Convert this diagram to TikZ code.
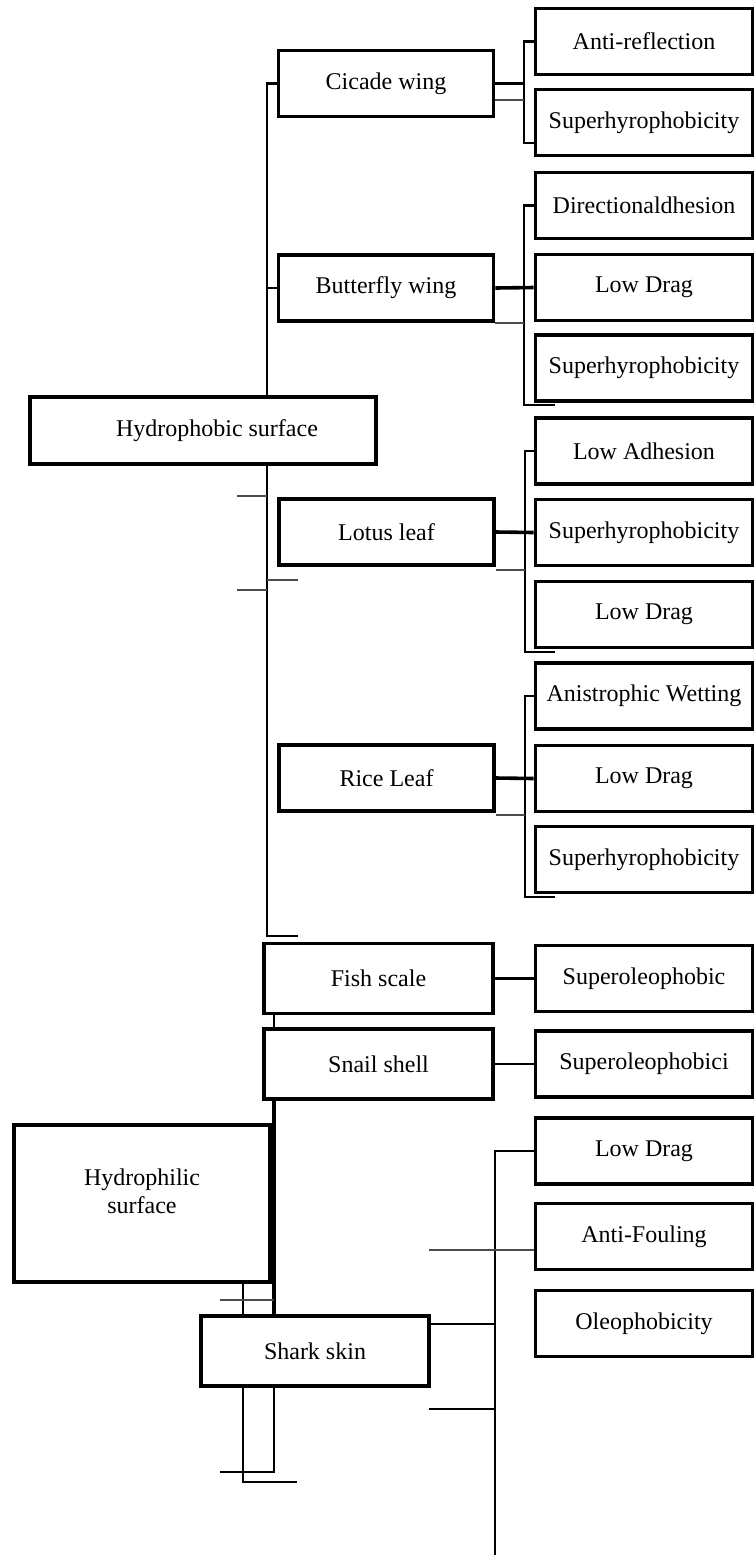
\documentclass[tikz,border=0pt]{standalone}
\usepackage{fontspec}
\setmainfont{Liberation Serif}
\usetikzlibrary{positioning}

\begin{document}
\begin{tikzpicture}[x=0.5pt, y=-0.5pt,
		box/.style = {draw, line width=1.8pt, inner sep=0pt, align=center,
					font=\fontsize{12}{14}\selectfont},
		leaf/.style = {box, minimum width=108.5pt, minimum height=33pt},
		mid/.style = {box, minimum width=107.5pt, minimum height=33pt},
		wide/.style = {box, minimum width=114.5pt, minimum height=35pt},
		link/.style = {line width=1.3pt},
		thicklink/.style = {line width=1.8pt},
		stub/.style = {line width=1.2pt, black!70}
		]

\useasboundingbox (0,0) rectangle (754,1555);

%Main surfaces
	\node[box, minimum width=173pt, minimum height=33.5pt] (hphob) at (203,430.5) {\hspace{14pt}Hydrophobic surface};
	\node[box, minimum width=128pt, minimum height=78.5pt] (hphil) at (142,1203.5) {Hydrophilic\\surface\\[-2pt]};

%Natural surfaces
	\node[mid] (cicade) at (386,83.5) {Cicade wing};
	\node[mid] (butterfly) at (386,288) {Butterfly wing};
	\node[mid] (lotus) at (386.5,532) {Lotus leaf};
	\node[mid] (rice) at (386.5,778) {Rice Leaf};
	\node[wide] (fish) at (378.5,978.5) {Fish scale};
	\node[wide] (snail) at (378.5,1064) {Snail shell};
	\node[wide, minimum width=114pt] (shark) at (315,1351) {Shark skin};

%Properties
	\foreach \name/\ypos/\txt in {antiref/41.5/Anti-reflection, superC/122.5/Superhyrophobicity,
			dirad/205.5/Directionaldhesion, lowdragB/287.5/Low Drag, superB/368/Superhyrophobicity,
			lowadh/451/Low Adhesion, superL/532.5/Superhyrophobicity, lowdragL/614.5/Low Drag,
			aniso/696/Anistrophic Wetting, lowdragR/778.5/Low Drag, superR/859.5/Superhyrophobicity,
			superoleo/978.5/Superoleophobic, superoleoi/1064/Superoleophobici,
			lowdragS/1151/Low Drag, antifoul/1236.5/Anti-Fouling, oleo/1323.5/Oleophobicity}
	{
		\node[leaf] (\name) at (644,\ypos) {\txt};
	}

%Trunk
	\coordinate (tk) at (267,0);
	\coordinate (tkend) at (298,936);
	\draw[link] (cicade.west) -| (tk |- hphob.north);
	\draw[link] (butterfly.west) -- (butterfly.west -| tk);
	\draw[link] (tk |- hphob.south) |- (tkend);

	\coordinate (s1) at (237,496);
	\coordinate (s2) at (298,580);
	\coordinate (s3) at (237,590);
	\draw[stub] (s1) -- (s1 -| tk);
	\draw[stub] (s2) -- (s2 -| tk);
	\draw[stub] (s3) -- (s3 -| tk);

%Cicade wing
	\coordinate (cbus) at (524,143);
	\coordinate (cmid) at (524,100);
	\draw[link] (antiref.west) -| (cbus) -- (cbus -| superC.west);
	\draw[thicklink] (cicade.east) -- (cicade.east -| cbus);
	\draw[stub] (cicade.east |- cmid) -- (cmid);

%Butterfly wing
	\coordinate (bbus) at (524,405);
	\coordinate (bmid) at (524,323);
	\draw[link] (dirad.west) -| (bbus) -- ++(31,0);
	\draw[thicklink] (butterfly.east) -- (lowdragB.west);
	\draw[stub] (butterfly.east |- bmid) -- (bmid);

%Lotus leaf
	\coordinate (lbus) at (525,652);
	\coordinate (lmid) at (525,570);
	\draw[link] (lowadh.west) -| (lbus) -- ++(30,0);
	\draw[thicklink] (lotus.east) -- (superL.west);
	\draw[stub] (lotus.east |- lmid) -- (lmid);

%Rice leaf
	\coordinate (rbus) at (525,897);
	\coordinate (rmid) at (525,815);
	\draw[link] (aniso.west) -| (rbus) -- ++(30,0);
	\draw[thicklink] (rice.east) -- (lowdragR.west);
	\draw[stub] (rice.east |- rmid) -- (rmid);

%Fish scale and snail shell
	\coordinate (hb) at (274,0);
	\draw[link] (fish.east) -- (superoleo.west);
	\draw[link] (snail.east) -- (superoleoi.west);
	\draw[link] (fish.south -| hb) -- (snail.north -| hb);
	\draw[thicklink] (snail.south -| hb) -- (shark.north -| hb);

%Hydrophilic surface
	\coordinate (lb) at (243,0);
	\coordinate (hbend) at (220,1472);
	\coordinate (lbend) at (297,1482);
	\coordinate (s4) at (220,1300);
	\draw[link] (shark.south -| hb) |- (hbend);
	\draw[link] (hphil.south -| lb) -- (shark.north -| lb);
	\draw[link] (shark.south -| lb) |- (lbend);
	\draw[stub] (s4) -- (s4 -| hb);

%Shark skin
	\coordinate (sbus) at (495,1555);
	\coordinate (sh1) at (495,1324);
	\coordinate (s5) at (429,1250);
	\coordinate (s6) at (429,1409);
	\draw[link] (lowdragS.west) -| (sbus);
	\draw[link] (shark.east |- sh1) -- (sh1);
	\draw[stub] (s5) -- (s5 -| antifoul.west);
	\draw[link] (s6) -- (s6 -| sbus);

\end{tikzpicture}
\end{document}
